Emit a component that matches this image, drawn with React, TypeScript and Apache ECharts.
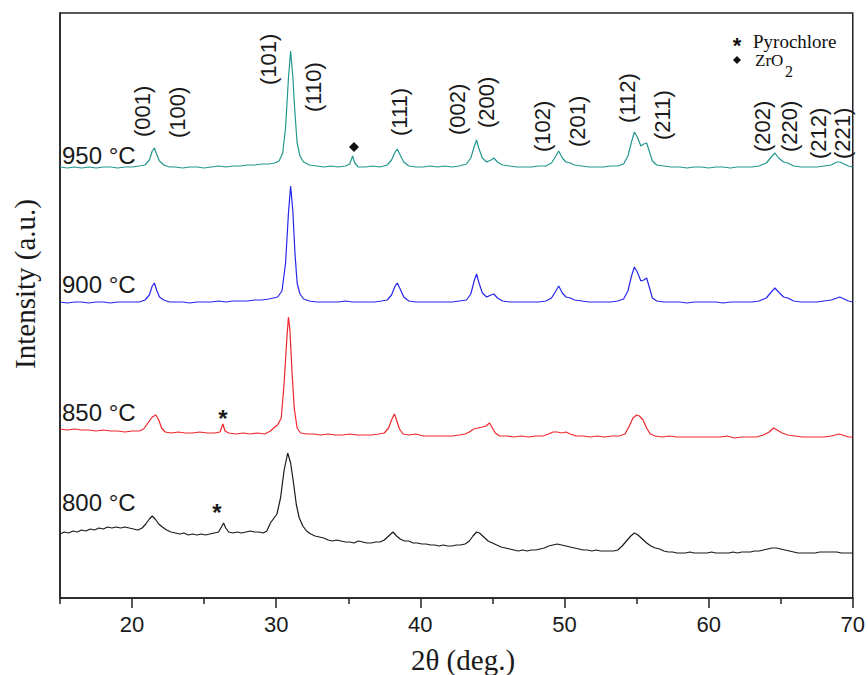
import React, { useEffect, useRef } from "react";
import * as echarts from "echarts";

// 2θ (deg.) vs intensity (arbitrary units, stacked offsets as drawn)
const s950: number[][] = [
  [15,431],[15.5,430],[16,431],[16.5,430],[17,431],[17.5,430],[18,431],[18.5,431],[19,430],[19.5,431],[20,431],[20.5,432],[20.9,433],[21.2,438],[21.4,447],[21.55,450],[21.7,444],[21.9,437],[22.2,433],[22.6,431],[23,431],[23.5,430],[24,431],[24.5,431],[25,430],[25.5,431],[26,432],[26.5,431],[27,432],[27.5,432],[28,433],[28.5,433],[29,434],[29.5,434],[29.9,435],[30.2,437],[30.45,445],[30.65,470],[30.85,520],[31.0,547],[31.15,522],[31.3,485],[31.45,455],[31.65,442],[31.9,436],[32.3,433],[32.8,432],[33.3,431],[33.8,432],[34.3,431],[34.8,432],[35.1,434],[35.3,442],[35.45,435],[35.7,431],[36.2,431],[36.7,432],[37.2,431],[37.7,433],[38.0,438],[38.25,446],[38.4,449],[38.6,443],[38.85,436],[39.2,432],[39.7,431],[40.2,431],[40.7,432],[41.2,431],[41.7,432],[42.2,431],[42.7,432],[43.2,434],[43.5,440],[43.75,452],[43.9,458],[44.05,450],[44.3,440],[44.6,436],[44.9,438],[45.1,440],[45.35,436],[45.7,433],[46.2,432],[46.7,431],[47.2,431],[47.7,431],[48.2,432],[48.7,432],[49.1,435],[49.4,442],[49.6,447],[49.85,440],[50.1,436],[50.4,435],[50.7,433],[51.2,432],[51.7,431],[52.2,431],[52.7,431],[53.2,432],[53.7,432],[54.1,434],[54.4,442],[54.65,456],[54.85,466],[55.05,461],[55.3,452],[55.5,454],[55.7,455],[55.9,446],[56.1,437],[56.4,433],[56.9,432],[57.4,431],[58,431],[58.5,430],[59,431],[59.5,431],[60,430],[60.5,431],[61,431],[61.5,430],[62,431],[62.5,431],[63,431],[63.5,432],[64,435],[64.35,441],[64.6,445],[64.85,440],[65.2,436],[65.5,435],[65.9,432],[66.4,431],[67,431],[67.5,431],[68,432],[68.5,433],[68.9,436],[69.1,436],[69.4,434],[69.7,432],[70,431]
];

const s900: number[][] = [
  [15,296],[15.5,295],[16,296],[16.5,296],[17,295],[17.5,296],[18,296],[18.5,295],[19,296],[19.5,296],[20,296],[20.5,296],[20.9,298],[21.2,303],[21.4,312],[21.55,315],[21.7,308],[21.9,301],[22.2,298],[22.6,296],[23,296],[23.5,296],[24,295],[24.5,296],[25,296],[25.5,296],[26,297],[26.5,296],[27,297],[27.5,297],[28,297],[28.5,298],[29,298],[29.5,299],[29.8,300],[30.1,301],[30.4,307],[30.65,335],[30.85,385],[31.0,412],[31.15,388],[31.3,345],[31.45,315],[31.65,304],[31.9,299],[32.3,297],[32.8,296],[33.3,296],[33.8,296],[34.3,296],[34.8,297],[35.3,296],[35.8,296],[36.3,296],[36.8,296],[37.3,297],[37.7,298],[38.0,303],[38.25,312],[38.4,315],[38.6,309],[38.85,301],[39.2,297],[39.7,296],[40.2,296],[40.7,296],[41.2,296],[41.7,296],[42.2,296],[42.7,297],[43.2,298],[43.5,304],[43.75,318],[43.9,324],[44.05,316],[44.3,305],[44.6,301],[44.9,303],[45.1,304],[45.35,300],[45.7,297],[46.2,296],[46.7,296],[47.2,296],[47.7,296],[48.2,296],[48.7,297],[49.1,300],[49.4,307],[49.6,312],[49.85,305],[50.1,301],[50.4,300],[50.7,298],[51.2,297],[51.7,296],[52.2,296],[52.7,296],[53.2,296],[53.7,297],[54.1,299],[54.4,307],[54.65,322],[54.85,331],[55.05,326],[55.3,317],[55.5,318],[55.7,320],[55.9,310],[56.1,300],[56.4,297],[56.9,296],[57.4,296],[58,296],[58.5,295],[59,296],[59.5,296],[60,296],[60.5,296],[61,295],[61.5,296],[62,296],[62.5,296],[63,296],[63.5,297],[64,300],[64.35,306],[64.6,310],[64.85,306],[65.2,301],[65.5,300],[65.9,297],[66.4,296],[67,296],[67.5,296],[68,297],[68.5,298],[68.9,300],[69.1,301],[69.4,299],[69.7,297],[70,296]
];

const s850: number[][] = [
  [15,169],[15.5,168],[16,169],[16.5,168],[17,168],[17.5,167],[18,168],[18.5,167],[19,167],[19.5,166],[20,167],[20.5,167],[20.8,169],[21.1,175],[21.4,181],[21.65,183],[21.85,178],[22.05,170],[22.3,166],[22.7,165],[23.2,166],[23.7,165],[24.2,165],[24.7,166],[25.2,165],[25.7,165],[26.1,166],[26.3,174],[26.45,167],[26.7,165],[27.2,164],[27.7,165],[28.2,164],[28.7,165],[29.2,164],[29.6,167],[29.9,171],[30.1,173],[30.35,180],[30.55,215],[30.75,262],[30.85,281],[30.95,268],[31.1,225],[31.25,190],[31.45,170],[31.7,165],[32.1,164],[32.6,164],[33.1,163],[33.6,164],[34.1,163],[34.6,163],[35.1,164],[35.6,163],[36.1,163],[36.6,163],[37.1,164],[37.5,165],[37.8,170],[38.0,178],[38.2,184],[38.35,178],[38.55,169],[38.8,164],[39.2,163],[39.7,164],[40.2,162],[40.7,162],[41.2,162],[41.7,162],[42.2,162],[42.7,163],[43.1,164],[43.4,166],[43.7,169],[44.0,170],[44.3,171],[44.55,172],[44.8,175],[45.0,170],[45.2,165],[45.5,162],[46,162],[46.5,161],[47,162],[47.5,161],[48,162],[48.5,162],[48.9,164],[49.2,166],[49.5,166],[49.8,165],[50.1,166],[50.4,164],[50.8,162],[51.3,162],[51.8,161],[52.3,162],[52.8,161],[53.3,162],[53.8,162],[54.2,164],[54.5,172],[54.75,180],[55.0,183],[55.2,182],[55.45,178],[55.7,170],[55.95,164],[56.3,162],[56.8,161],[57.3,162],[57.8,161],[58.3,161],[58.8,161],[59.3,161],[59.8,161],[60.3,161],[60.8,161],[61.3,162],[61.8,160],[62.3,161],[62.8,161],[63.3,161],[63.8,163],[64.2,166],[64.5,170],[64.75,168],[65.1,165],[65.5,163],[66,162],[66.5,161],[67,161],[67.5,161],[68,161],[68.5,162],[68.8,163],[69.0,164],[69.3,163],[69.7,161],[70,161]
];

const s800: number[][] = [
  [15,64],[15.3,66],[15.6,65],[15.9,67],[16.2,66],[16.5,68],[16.8,67],[17.1,69],[17.4,68],[17.7,70],[18.0,69],[18.3,71],[18.6,70],[18.9,71],[19.2,70],[19.5,71],[19.8,70],[20.1,69],[20.4,68],[20.7,70],[20.95,74],[21.2,79],[21.4,82],[21.6,79],[21.85,74],[22.1,71],[22.4,68],[22.7,66],[23.0,65],[23.3,64],[23.6,65],[23.9,63],[24.2,64],[24.5,63],[24.8,64],[25.1,63],[25.4,64],[25.7,65],[26.0,66],[26.2,71],[26.35,75],[26.5,70],[26.7,66],[27.0,65],[27.3,66],[27.6,65],[27.9,66],[28.2,67],[28.5,66],[28.8,66],[29.1,65],[29.35,67],[29.6,75],[29.85,80],[30.05,84],[30.3,100],[30.55,128],[30.8,145],[31.0,135],[31.2,115],[31.4,93],[31.6,80],[31.85,72],[32.1,67],[32.4,64],[32.7,62],[33.0,61],[33.3,60],[33.6,58],[33.9,57],[34.2,58],[34.5,57],[34.8,56],[35.1,56],[35.4,55],[35.7,57],[36.0,56],[36.3,55],[36.6,55],[36.9,56],[37.2,56],[37.5,58],[37.8,62],[38.1,66],[38.35,62],[38.6,59],[38.9,57],[39.2,57],[39.5,55],[39.8,55],[40.1,54],[40.4,54],[40.7,53],[41.0,53],[41.3,52],[41.6,53],[41.9,52],[42.2,52],[42.5,53],[42.8,53],[43.1,54],[43.4,57],[43.65,62],[43.9,66],[44.1,65],[44.4,61],[44.7,57],[45.0,55],[45.3,53],[45.6,51],[45.9,50],[46.2,49],[46.5,48],[46.8,47],[47.1,48],[47.4,47],[47.7,48],[48.0,48],[48.3,49],[48.6,50],[48.9,52],[49.2,53],[49.5,54],[49.8,53],[50.1,52],[50.4,51],[50.7,50],[51.0,49],[51.3,48],[51.6,48],[51.9,47],[52.2,48],[52.5,47],[52.8,47],[53.1,47],[53.4,47],[53.7,48],[54.0,52],[54.3,57],[54.6,62],[54.85,65],[55.1,63],[55.4,59],[55.7,55],[56.0,52],[56.3,50],[56.6,49],[56.9,47],[57.2,46],[57.5,46],[57.8,45],[58.1,45],[58.4,45],[58.7,46],[59.0,45],[59.3,45],[59.6,45],[59.9,45],[60.2,46],[60.5,45],[60.8,45],[61.1,45],[61.4,45],[61.7,46],[62.0,45],[62.3,46],[62.6,46],[62.9,46],[63.2,47],[63.5,47],[63.8,48],[64.1,49],[64.4,50],[64.7,50],[65.0,49],[65.3,48],[65.6,47],[65.9,46],[66.2,45],[66.5,45],[66.8,45],[67.1,45],[67.4,45],[67.7,46],[68.0,46],[68.3,46],[68.6,46],[68.9,46],[69.2,45],[69.5,45],[69.8,45],[70,45]
];

const seriesNames = ["800 °C", "850 °C", "900 °C", "950 °C"];
const seriesColors = ["#1a1a1a", "#f0262c", "#2626ea", "#22978e"];
const hklLabels = ["(001)", "(100)", "(101)", "(110)", "(111)", "(002)", "(200)", "(102)", "(201)", "(112)", "(211)", "(202)", "(220)", "(212)", "(221)"];
const majorTicks = [20, 30, 40, 50, 60, 70];
const minorTicks = [15, 25, 35, 45, 55, 65];
const legendItems = ["Pyrochlore", "ZrO", "2"];

// label placement (pixels)
const hklPos = [[142,137],[177,138],[268,85],[313,112],[399,136],[457,135],[486,128],[542,152],[577,147],[627,123],[662,140],[762,152],[789,152],[818,159],[842,159]];
const tempPos = [[62,502],[62,412],[62,284],[62,155]];

const SANS = '"Liberation Sans", Arial, sans-serif';
const SERIF = '"Liberation Serif", "Times New Roman", serif';

export default function App() {
  const ref = useRef<HTMLDivElement>(null);
  useEffect(() => {
    document.body.style.margin = "0";
    const chart = echarts.init(ref.current!, null, { renderer: "svg" });
    const data = [s800, s850, s900, s950];

    const graphic: any[] = [];
    hklLabels.forEach((t, i) => {
      graphic.push({
        type: "text", x: hklPos[i][0], y: hklPos[i][1], rotation: Math.PI / 2,
        style: { text: t, fontFamily: SANS, fontSize: 22, fill: "#1a1a1a", align: "left", verticalAlign: "middle" },
      });
    });
    seriesNames.forEach((t, i) => {
      graphic.push({
        type: "text", x: tempPos[i][0], y: tempPos[i][1],
        style: { text: t, fontFamily: SANS, fontSize: 24, fill: "#1a1a1a", align: "left", verticalAlign: "middle" },
      });
    });
    // phase markers
    graphic.push({ type: "text", x: 223, y: 418, style: { text: "*", fontFamily: SANS, fontSize: 24, fontWeight: "bold", fill: "#1a1a1a", align: "center", verticalAlign: "middle" } });
    graphic.push({ type: "text", x: 217, y: 512, style: { text: "*", fontFamily: SANS, fontSize: 24, fontWeight: "bold", fill: "#1a1a1a", align: "center", verticalAlign: "middle" } });
    graphic.push({ type: "polygon", shape: { points: [[354, 142], [359, 147], [354, 152], [349, 147]] }, style: { fill: "#111" } });
    // legend
    graphic.push({ type: "text", x: 737, y: 45, style: { text: "*", fontFamily: SANS, fontSize: 22, fontWeight: "bold", fill: "#111", align: "center", verticalAlign: "middle" } });
    graphic.push({ type: "text", x: 753, y: 41, style: { text: legendItems[0], fontFamily: SERIF, fontSize: 19, fill: "#111", align: "left", verticalAlign: "middle" } });
    graphic.push({ type: "polygon", shape: { points: [[737, 56], [741, 60], [737, 64], [733, 60]] }, style: { fill: "#111" } });
    graphic.push({ type: "text", x: 755, y: 60, style: { text: legendItems[1], fontFamily: SERIF, fontSize: 17, fill: "#111", align: "left", verticalAlign: "middle" } });
    graphic.push({ type: "text", x: 785, y: 71, style: { text: legendItems[2], fontFamily: SERIF, fontSize: 16, fill: "#111", align: "left", verticalAlign: "middle" } });
    // axis names
    graphic.push({ type: "text", x: 463, y: 660, style: { text: "2θ (deg.)", fontFamily: SERIF, fontSize: 29, fill: "#1a1a1a", align: "center", verticalAlign: "middle" } });
    graphic.push({ type: "text", x: 25, y: 284, rotation: Math.PI / 2, style: { text: "Intensity (a.u.)", fontFamily: SERIF, fontSize: 29, fill: "#1a1a1a", align: "center", verticalAlign: "middle" } });

    const option: any = {
      animation: false,
      backgroundColor: "#ffffff",
      grid: { left: 60, right: 15, top: 13, bottom: 77, show: true, borderColor: "#222", borderWidth: 1.5, backgroundColor: "transparent" },
      xAxis: [
        {
          type: "value", min: 15, max: 70, position: "bottom",
          axisLine: { show: true, onZero: false, lineStyle: { color: "#222", width: 1.5 } },
          axisTick: { show: true, customValues: majorTicks, length: 10, lineStyle: { color: "#222", width: 1.5 } },
          axisLabel: { show: true, customValues: majorTicks, margin: 15, fontFamily: SANS, fontSize: 22, color: "#1a1a1a" },
          splitLine: { show: false },
        },
        {
          type: "value", min: 15, max: 70, position: "bottom", gridIndex: 0,
          axisLine: { show: false, onZero: false },
          axisTick: { show: true, customValues: minorTicks, length: 6, lineStyle: { color: "#222", width: 1.5 } },
          axisLabel: { show: false },
          splitLine: { show: false },
        },
      ],
      yAxis: {
        type: "value", min: 0, max: 585,
        axisLine: { show: true, onZero: false, lineStyle: { color: "#222", width: 1.5 } },
        axisTick: { show: false }, axisLabel: { show: false }, splitLine: { show: false },
      },
      series: data.map((d, i) => ({
        type: "line", name: seriesNames[i], data: d, xAxisIndex: 0, showSymbol: false, symbol: "none",
        lineStyle: { color: seriesColors[i], width: 1.2 }, silent: true,
      })),
      graphic,
    };
    chart.setOption(option);
    return () => chart.dispose();
  }, []);
  return <div ref={ref} style={{ width: 868, height: 675, position: "absolute", left: 0, top: 0 }} />;
}
